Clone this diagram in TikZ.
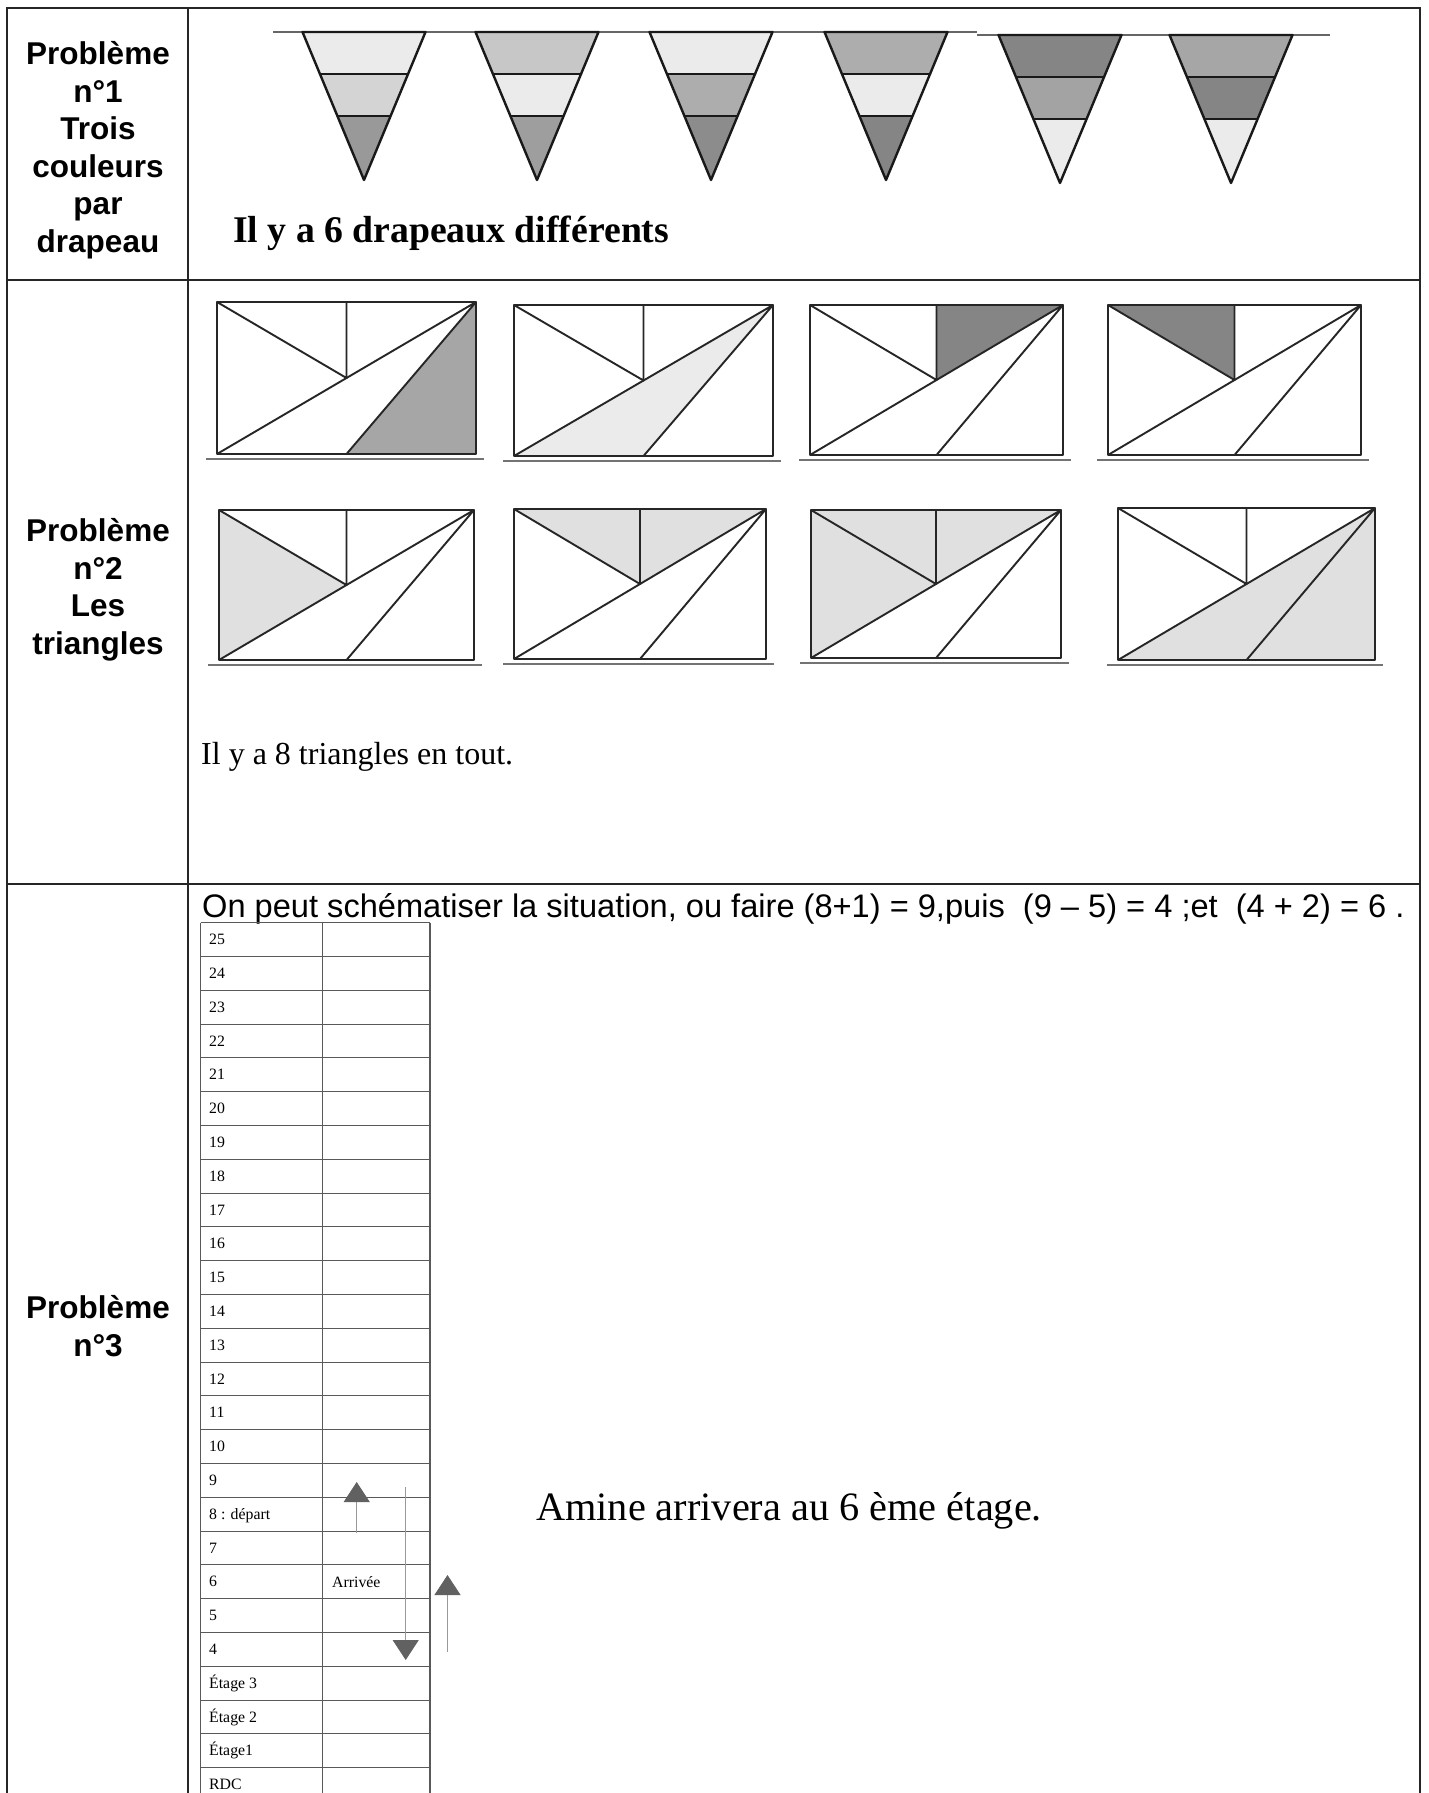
\documentclass[tikz,border=0pt]{standalone}
\usepackage{fontspec}
\setmainfont{Liberation Serif}
\setsansfont{Liberation Sans}
\usetikzlibrary{arrows.meta,positioning}

\begin{document}
\begin{tikzpicture}[
  x=1pt, y=-1pt,
  grid/.style={draw=black!85, line width=1.6pt},
  label/.style={font=\sffamily\bfseries\fontsize{31.5}{37.5}\selectfont,
                align=center, inner sep=0pt},
  flagline/.style={draw=black!90, line width=2.4pt, line join=round},
  rectline/.style={draw=black!85, line width=1.9pt, line join=round},
  ground/.style={draw=black!55, line width=1.8pt},
  floorline/.style={draw=black!65, line width=1.1pt},
  floornum/.style={font=\fontsize{15.8}{18}\selectfont, anchor=base west, inner sep=0pt},
  answer/.style={font=\fontsize{32}{38}\selectfont, anchor=base west, inner sep=0pt},
  shaft/.style={draw=black!40, line width=0.9pt,
                -{Triangle[width=26pt,length=20pt,black!62]}}]

  \useasboundingbox (0,0) rectangle (1429,1793);
  \fill[white] (0,0) rectangle (1429,1793);
  \clip (0,0) rectangle (1429,1793);

  % table frame
  \draw[grid] (7,1800) -- (7,8) -- (1420,8) -- (1420,1800);
  \draw[grid] (188,8) -- (188,1800);
  \draw[grid] (7,280) -- (1420,280);
  \draw[grid] (7,884) -- (1420,884);

  \node[label] (lab1) at (98,150) {Problème\\n°1\\Trois\\couleurs\\par\\drapeau};
  \node[label] (lab2) at (98,590) {Problème\\n°2\\Les\\triangles};
  \node[label] (lab3) at (98,1326) {Problème\\n°3};

  % problem 1: flags
  \draw[black!60, line width=1.4pt] (273,32) -- (977,32);
  \draw[black!60, line width=1.4pt] (977,35) -- (1330,35);
  \foreach \xc/\yt/\ca/\cb/\cc in {364/32/black!8/black!17/black!40, 537/32/black!22/black!8/black!38,
      711/32/black!8/black!32/black!45, 886/32/black!32/black!8/black!48,
      1060/35/black!48/black!36/black!8, 1231/35/black!35/black!48/black!8} {
    \fill[fill=\ca] (\xc-61.5,\yt) -- (\xc+61.5,\yt) -- (\xc+44,\yt+42) -- (\xc-44,\yt+42) -- cycle;
    \fill[fill=\cb] (\xc-44,\yt+42) -- (\xc+44,\yt+42) -- (\xc+26.6,\yt+84) -- (\xc-26.6,\yt+84) -- cycle;
    \fill[fill=\cc] (\xc-26.6,\yt+84) -- (\xc+26.6,\yt+84) -- (\xc,\yt+148) -- cycle;
    \draw[flagline] (\xc-61.5,\yt) -- (\xc+61.5,\yt) -- (\xc,\yt+148) -- cycle;
    \draw[flagline] (\xc-44,\yt+42) -- (\xc+44,\yt+42);
    \draw[flagline] (\xc-26.6,\yt+84) -- (\xc+26.6,\yt+84);
  }
  \node[font=\bfseries\fontsize{37.7}{44}\selectfont, anchor=base west, inner sep=0pt]
    (res1) at (233,242) {Il y a 6 drapeaux différents};

  % problem 2: rectangles
  \foreach \rx/\ry/\rw/\rh/\k in {217/302/259/152/0, 514/305/259/151/1, 810/305/253/150/2,
      1108/305/253/150/3, 219/510/255/150/4, 514/509/252/150/5, 811/510/250/148/6,
      1118/508/257/152/7} {
    \begin{scope}[shift={(\rx,\ry)}]
      \ifcase\k
        \fill[black!35] (\rw,0) -- (\rw/2,\rh) -- (\rw,\rh) -- cycle;
      \or
        \fill[black!8] (0,\rh) -- (\rw/2,\rh) -- (\rw,0) -- cycle;
      \or
        \fill[black!48] (\rw/2,0) -- (\rw,0) -- (\rw/2,\rh/2) -- cycle;
      \or
        \fill[black!48] (0,0) -- (\rw/2,0) -- (\rw/2,\rh/2) -- cycle;
      \or
        \fill[black!12] (0,0) -- (\rw/2,\rh/2) -- (0,\rh) -- cycle;
      \or
        \fill[black!12] (0,0) -- (\rw,0) -- (\rw/2,\rh/2) -- cycle;
      \or
        \fill[black!12] (0,0) -- (\rw,0) -- (\rw/2,\rh/2) -- (0,\rh) -- cycle;
      \or
        \fill[black!12] (0,\rh) -- (\rw,0) -- (\rw,\rh) -- cycle;
      \fi
      \draw[ground] (-11,\rh+5) -- (\rw+8,\rh+5);
      \draw[rectline] (0,0) rectangle (\rw,\rh);
      \draw[rectline] (0,0) -- (\rw/2,\rh/2) -- (\rw/2,0);
      \draw[rectline] (0,\rh) -- (\rw,0) -- (\rw/2,\rh);
    \end{scope}
  }
  \node[answer] (res2) at (201,764) {Il y a 8 triangles en tout.};

  % problem 3: floors
  \node[font=\sffamily\fontsize{32.6}{38}\selectfont, anchor=base west, inner sep=0pt]
    (calc) at (202,917) {On peut schématiser la situation, ou faire (8+1) = 9,puis\ \ (9 – 5) = 4 ;et\ \ (4 + 2) = 6 .};
  \foreach \f [count=\n from 0] in {25,24,23,22,21,20,19,18,17,16,15,14,13,12,11,10,9,
      8 : départ,7,6,5,4,Étage 3,Étage 2,Étage1,RDC} {
    \draw[floorline] (200.7,922.7+33.8*\n) -- (430,922.7+33.8*\n);
    \node[floornum] (etage\n) at (209,944.7+33.8*\n) {\f};
  }
  \draw[floorline] (200.7,922.7) -- (200.7,1801.5);
  \draw[floorline] (322.7,922.7) -- (322.7,1801.5);
  \draw[floorline] (430,922.7) -- (430,1801.5);
  \node[floornum] (arrivee) at (332,1587.7) {Arrivée};

  \coordinate (up1a) at (356.7,1533);
  \coordinate (up1b) at (356.7,1482);
  \coordinate (downa) at (405.7,1487);
  \coordinate (downb) at (405.7,1660);
  \coordinate (up2a) at (447.5,1652);
  \coordinate (up2b) at (447.5,1575);
  \draw[shaft] (up1a) -- (up1b);
  \draw[shaft] (downa) -- (downb);
  \draw[shaft] (up2a) -- (up2b);

  \node[font=\fontsize{40.3}{48}\selectfont, anchor=base west, inner sep=0pt]
    (amine) at (536,1520) {Amine arrivera au 6 ème étage.};
\end{tikzpicture}
\end{document}
